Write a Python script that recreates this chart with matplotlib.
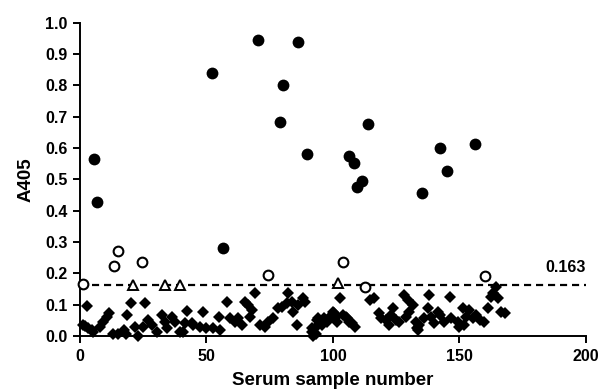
import matplotlib
matplotlib.use("Agg")
import matplotlib.pyplot as plt

plt.rcParams['font.family'] = ['Liberation Sans', 'DejaVu Sans']
plt.rcParams['font.weight'] = 'bold'

# filled circles (positive sera)
pos_x = [5.5, 6.6, 52.3, 56.5, 70.2, 79.2, 80.2, 86.2, 89.7, 106.4, 108.3, 109.6,
         111.3, 113.7, 135.3, 142.3, 145.3, 156.0]
pos_y = [0.565, 0.428, 0.840, 0.280, 0.944, 0.683, 0.800, 0.940, 0.580, 0.575, 0.551, 0.475,
         0.495, 0.677, 0.455, 0.599, 0.528, 0.614]

# open circles (borderline)
bord_x = [1.0, 13.6, 14.9, 24.6, 74.4, 103.8, 112.8, 160.0]
bord_y = [0.165, 0.223, 0.272, 0.236, 0.195, 0.237, 0.157, 0.190]

# open triangles
tri_x = [21.0, 33.6, 39.5, 102.1]
tri_y = [0.163, 0.163, 0.163, 0.168]

# filled diamonds (negative sera)
neg_x = [1.2, 2.0, 2.9, 3.2, 4.6, 5.1, 7.9, 9.2, 10.5, 11.6, 13.2, 15.1, 17.4, 18.2, 18.4,
         20.2, 21.7, 23.0, 25.0, 25.7, 27.0, 28.3, 30.3, 32.3, 33.6, 34.3, 36.2, 37.5, 39.5,
         40.8, 41.5, 42.2, 44.1, 44.8, 47.4, 48.7, 50.0, 52.7, 55.0, 55.3, 58.0, 59.3, 61.3,
         62.6, 63.9, 65.2, 66.5, 67.2, 67.9, 69.2, 71.1, 73.1, 74.4, 76.4, 78.4, 79.7, 81.7,
         82.3, 83.7, 84.3, 85.6, 86.0, 88.3, 88.9, 91.6, 91.8, 92.2, 92.9, 93.5, 93.8, 94.2,
         95.5, 96.4, 97.5, 98.8, 99.0, 100.1, 100.4, 100.8, 101.7, 102.8, 104.1, 105.0, 105.4,
         106.3, 107.4, 108.7, 114.6, 116.3, 118.3, 119.0, 121.0, 122.2, 122.9, 123.8, 124.9,
         126.2, 128.2, 128.9, 129.5, 130.1, 131.5, 132.8, 133.4, 133.7, 134.1, 136.1, 137.4,
         138.1, 138.8, 140.1, 141.4, 142.2, 144.1, 146.2, 146.8, 149.4, 150.0, 151.4, 152.0,
         152.7, 154.0, 155.3, 156.6, 158.0, 159.9, 161.3, 162.6, 163.2, 164.5, 165.2, 166.5,
         168.0]
neg_y = [0.035, 0.032, 0.096, 0.026, 0.019, 0.014, 0.030, 0.046, 0.062, 0.072, 0.006, 0.006,
         0.019, 0.006, 0.067, 0.104, 0.030, 0.000, 0.030, 0.104, 0.051, 0.035, 0.014, 0.067,
         0.046, 0.025, 0.062, 0.046, 0.014, 0.014, 0.040, 0.080, 0.040, 0.035, 0.030, 0.078,
         0.025, 0.025, 0.062, 0.019, 0.110, 0.056, 0.046, 0.056, 0.035, 0.110, 0.099, 0.062,
         0.083, 0.136, 0.035, 0.030, 0.046, 0.056, 0.088, 0.094, 0.104, 0.136, 0.110, 0.078,
         0.035, 0.099, 0.120, 0.110, 0.014, 0.025, 0.000, 0.025, 0.008, 0.051, 0.056, 0.035,
         0.056, 0.046, 0.062, 0.062, 0.078, 0.072, 0.056, 0.046, 0.120, 0.067, 0.062, 0.056,
         0.046, 0.040, 0.030, 0.115, 0.120, 0.072, 0.056, 0.051, 0.035, 0.067, 0.088, 0.051,
         0.046, 0.131, 0.062, 0.115, 0.078, 0.099, 0.046, 0.025, 0.020, 0.035, 0.056, 0.088,
         0.131, 0.062, 0.040, 0.078, 0.067, 0.046, 0.126, 0.056, 0.046, 0.030, 0.088, 0.035,
         0.062, 0.083, 0.056, 0.067, 0.051, 0.046, 0.088, 0.126, 0.136, 0.157, 0.120, 0.078,
         0.072]

cutoff = 0.163

fig = plt.figure(figsize=(5.99, 3.89), dpi=100)
ax = fig.add_axes([0.1336, 0.1362, 0.8444, 0.8054])

ax.axhline(cutoff, xmin=0, xmax=1, color='black', lw=1.6, ls=(0, (3.2, 2.2)), zorder=1)
ax.plot(neg_x, neg_y, 'D', color='black', ms=6.5, mew=0, clip_on=False, zorder=3)
ax.plot(pos_x, pos_y, 'o', color='black', ms=8.5, mew=0, clip_on=False, zorder=3)
ax.plot(bord_x, bord_y, 'o', mfc='white', mec='black', ms=7, mew=1.5, clip_on=False, zorder=4)
ax.plot(tri_x, tri_y, '^', mfc='white', mec='black', ms=6.5, mew=1.4, clip_on=False, zorder=4)

ax.text(200, 0.195, '0.163', ha='right', va='bottom', fontsize=11.5, fontweight='bold')

ax.set_xlim(0, 200)
ax.set_ylim(0, 1.0)
ax.set_xticks([0, 50, 100, 150, 200])
ax.set_yticks([i / 10 for i in range(11)])
ax.set_yticklabels([f'{i / 10:.1f}' for i in range(11)])
ax.spines['top'].set_visible(False)
ax.spines['right'].set_visible(False)
for s in ('left', 'bottom'):
    ax.spines[s].set_linewidth(1.4)
ax.tick_params(direction='out', length=5, width=1.4, labelsize=11.5, pad=4)
for lab in ax.get_xticklabels() + ax.get_yticklabels():
    lab.set_fontweight('bold')

ax.set_xlabel('Serum sample number', fontsize=13.5, fontweight='bold', labelpad=6)
ax.set_ylabel('A405', fontsize=13.5, fontweight='bold', labelpad=8)

fig.savefig('out.png', dpi=100)
